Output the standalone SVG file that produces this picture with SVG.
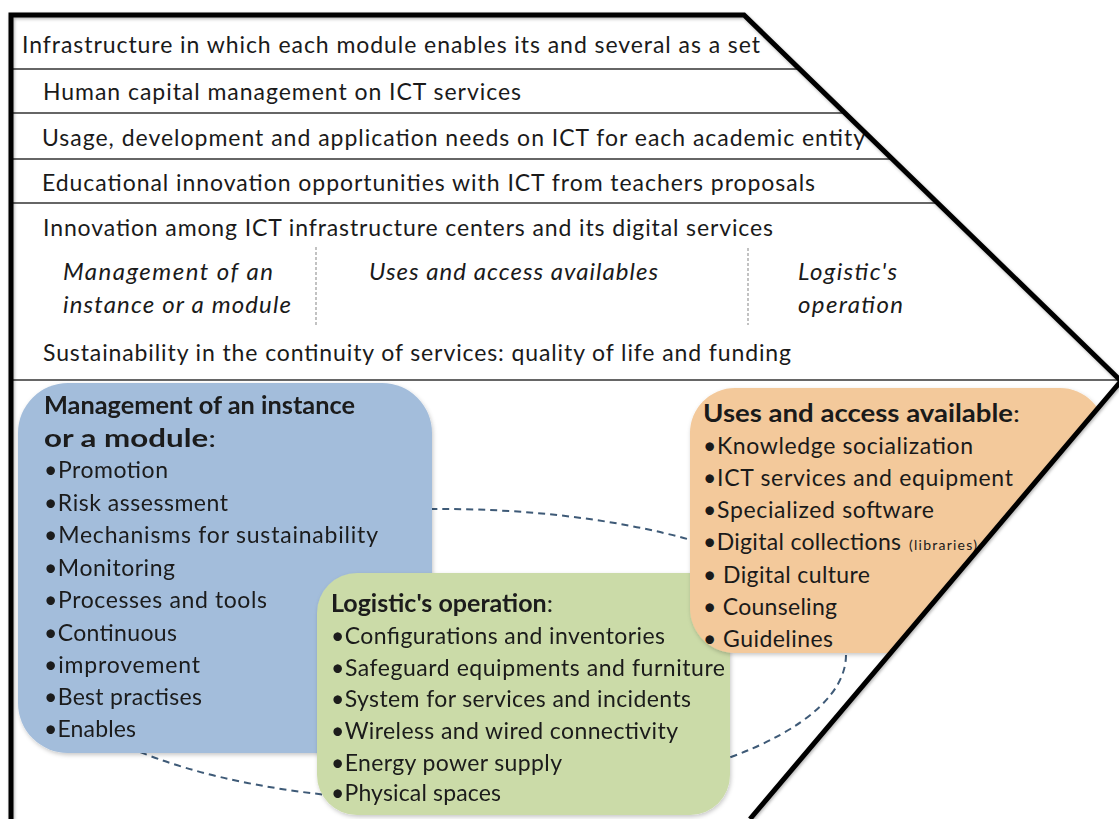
<svg xmlns="http://www.w3.org/2000/svg" width="1119" height="819" viewBox="0 0 1119 819">
  <style>
    text { font-family: Lato, "Open Sans", "Liberation Sans", sans-serif; fill: #1a1a1a; }
    .row { font-size: 23px; }
    .it { font-size: 24px; font-style: italic; }
    .item { font-size: 23px; }
    .head { font-size: 24px; font-weight: bold; }
    .small { font-size: 14px; }
    .rule { stroke: #333; stroke-width: 1.5; fill: none; }
    .sep { stroke: #9a9a9a; stroke-width: 1.2; stroke-dasharray: 3 2; fill: none; }
    .frame { stroke: #000; stroke-width: 5; fill: none; stroke-linejoin: miter; }
    .link { stroke: #3e5a77; stroke-width: 2; stroke-dasharray: 7 5; fill: none; }
  </style>
  <defs>
    <clipPath id="frameClip">
      <polygon points="11,15 744,15 1121,381 750,819 11,819"/>
    </clipPath>
    <filter id="shadow" x="-10%" y="-10%" width="120%" height="120%">
      <feDropShadow dx="1" dy="2" stdDeviation="2" flood-color="#000" flood-opacity="0.22"/>
    </filter>
    <filter id="frameShadow" x="-5%" y="-5%" width="110%" height="110%">
      <feDropShadow dx="1" dy="1.5" stdDeviation="1.5" flood-color="#000" flood-opacity="0.3"/>
    </filter>
  </defs>

  <rect width="1119" height="819" fill="#fff"/>

  <!-- horizontal rules between layers -->
  <g id="rules">
    <line class="rule" x1="11" y1="69" x2="800" y2="69"/>
    <line class="rule" x1="11" y1="113" x2="845" y2="113"/>
    <line class="rule" x1="11" y1="159" x2="892" y2="159"/>
    <line class="rule" x1="11" y1="203" x2="938" y2="203"/>
    <line class="rule" x1="11" y1="380" x2="1119" y2="380"/>
    <line class="sep" x1="316" y1="247" x2="316" y2="325"/>
    <line class="sep" x1="748" y1="248" x2="748" y2="325"/>
  </g>

  <!-- layer labels -->
  <g id="layers">
    <text class="row" x="22" y="53" textLength="738">Infrastructure in which each module enables its and several as a set</text>
    <text class="row" x="43" y="100" textLength="478">Human capital management on ICT services</text>
    <text class="row" x="42" y="146" textLength="823">Usage, development and application needs on ICT for each academic entity</text>
    <text class="row" x="42" y="191" textLength="773">Educational innovation opportunities with ICT from teachers proposals</text>
    <text class="row" x="43" y="236" textLength="730">Innovation among ICT infrastructure centers and its digital services</text>
    <text class="it" x="63" y="280" textLength="210">Management of an</text>
    <text class="it" x="63" y="313" textLength="228">instance or a module</text>
    <text class="it" x="369" y="280" textLength="289">Uses and access availables</text>
    <text class="it" x="798" y="280" textLength="99">Logistic's</text>
    <text class="it" x="798" y="313" textLength="105">operation</text>
    <text class="row" x="43" y="361" textLength="748">Sustainability in the continuity of services: quality of life and funding</text>
  </g>

  <!-- dashed ring linking the three areas -->
  <g id="connectors">
    <ellipse class="link" cx="442" cy="655" rx="404" ry="146"/>
  </g>

  <g id="management" filter="url(#shadow)">
    <rect x="18" y="383" width="414" height="370" rx="50" ry="50" fill="#a3bddb"/>
    <text class="head" x="44" y="414" textLength="311" lengthAdjust="spacingAndGlyphs">Management of an instance</text>
    <text class="head" x="44" y="447" textLength="172" lengthAdjust="spacingAndGlyphs">or a module<tspan font-weight="normal">:</tspan></text>
    <text class="item" x="44" y="478" textLength="124">•Promotion</text>
    <text class="item" x="44" y="511" textLength="184">•Risk assessment</text>
    <text class="item" x="44" y="543" textLength="334">•Mechanisms for sustainability</text>
    <text class="item" x="44" y="576" textLength="131">•Monitoring</text>
    <text class="item" x="44" y="608" textLength="223">•Processes and tools</text>
    <text class="item" x="44" y="641" textLength="133">•Continuous</text>
    <text class="item" x="44" y="673" textLength="156">•improvement</text>
    <text class="item" x="44" y="705" textLength="158">•Best practises</text>
    <text class="item" x="44" y="737" textLength="92">•Enables</text>
  </g>

  <g id="logistics" filter="url(#shadow)">
    <rect x="317" y="573" width="413" height="242" rx="40" ry="40" fill="#cbdba8"/>
    <text class="head" x="331" y="612" textLength="222" lengthAdjust="spacingAndGlyphs">Logistic's operation<tspan font-weight="normal">:</tspan></text>
    <text class="item" x="331" y="644" textLength="334">•Configurations and inventories</text>
    <text class="item" x="331" y="676" textLength="394">•Safeguard equipments and furniture</text>
    <text class="item" x="331" y="707" textLength="360">•System for services and incidents</text>
    <text class="item" x="331" y="739" textLength="347">•Wireless and wired connectivity</text>
    <text class="item" x="331" y="771" textLength="231">•Energy power supply</text>
    <text class="item" x="331" y="801" textLength="170">•Physical spaces</text>
  </g>

  <g id="uses">
    <g clip-path="url(#frameClip)">
      <rect x="690" y="388" width="415" height="265" rx="45" ry="45" fill="#f3c99b" filter="url(#shadow)"/>
    </g>
    <text class="head" x="703" y="422" textLength="317" lengthAdjust="spacingAndGlyphs">Uses and access available<tspan font-weight="normal">:</tspan></text>
    <text class="item" x="703" y="454" textLength="270">•Knowledge socialization</text>
    <text class="item" x="703" y="486" textLength="310">•ICT services and equipment</text>
    <text class="item" x="703" y="518" textLength="231">•Specialized software</text>
    <text class="item" x="703" y="550" textLength="198">•Digital collections</text>
    <text class="small" x="909" y="550" textLength="68">(libraries)</text>
    <text class="item" x="703" y="583" textLength="167">• Digital culture</text>
    <text class="item" x="703" y="615" textLength="134">• Counseling</text>
    <text class="item" x="703" y="647" textLength="130">• Guidelines</text>
  </g>

  <!-- outer frame -->
  <g id="frame" filter="url(#frameShadow)">
    <path class="frame" d="M11,819 L11,15 L744,15 L1121,381 L750,819"/>
  </g>
</svg>
